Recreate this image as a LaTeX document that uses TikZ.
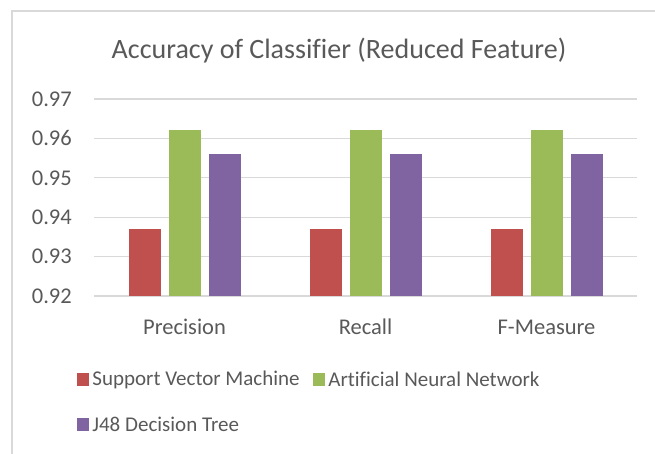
\documentclass[tikz,border=0pt]{standalone}
\usepackage{fontspec}
\setmainfont[Ligatures=NoCommon]{Carlito}
\usetikzlibrary{positioning}
\definecolor{svmred}{HTML}{C0504D}
\definecolor{anngreen}{HTML}{9BBB59}
\definecolor{jpurple}{HTML}{8064A2}
\definecolor{labelgray}{HTML}{595959}
\definecolor{linegray}{HTML}{D9D9D9}

\begin{document}
\begin{tikzpicture}[x=1pt,y=-1pt,
    declare function={yv(\v)=296-(\v-0.92)*3940;},
    every node/.style={text=labelgray,inner sep=0pt,font=\fontsize{22.5}{27}\selectfont},
    gridline/.style={draw=linegray,line width=1.3pt},
    key/.style={fill=#1,minimum width=12pt,minimum height=13pt},
    keytext/.style={font=\fontsize{21}{25}\selectfont}]
    \useasboundingbox (0,0) rectangle (655,454);
    % chart frame
    \draw[linegray,line width=1.5pt] (655,11) -- (12,11) -- (12,454);
    \node (title) at (339,51) {\fontsize{28}{33}\selectfont Accuracy of Classifier (Reduced Feature)};
    % value axis
    \foreach \t in {92,...,97} {
        \draw[gridline] (94,{yv(\t/100)}) -- (637,{yv(\t/100)});
        \node[anchor=east] (tick\t) at (72,{yv(\t/100)}) {0.\t};
    }
    % bars
    \foreach \cat/\a/\b/\c [count=\i from 0] in {Precision/0.937/0.9621/0.956,Recall/0.937/0.9621/0.956,F-Measure/0.937/0.9621/0.956} {
        \pgfmathsetmacro\cx{184.5+181*\i}
        \fill[svmred] (\cx-56,296) rectangle (\cx-24,{yv(\a)});
        \fill[anngreen] (\cx-16,296) rectangle (\cx+16,{yv(\b)});
        \fill[jpurple] (\cx+24,296) rectangle (\cx+56,{yv(\c)});
        \node (cat\i) at (\cx,327) {\cat};
    }
    % legend
    \node[key=svmred] (svmkey) at (83,379.5) {};
    \node[keytext,right=3pt of svmkey] (svmtext) {Support Vector Machine};
    \node[key=anngreen] (annkey) at (319,379.5) {};
    \node[keytext,right=3pt of annkey] (anntext) {Artificial Neural Network};
    \node[key=jpurple] (jkey) at (83,424.5) {};
    \node[keytext,right=3pt of jkey] (jtext) {J48 Decision Tree};
\end{tikzpicture}
\end{document}
